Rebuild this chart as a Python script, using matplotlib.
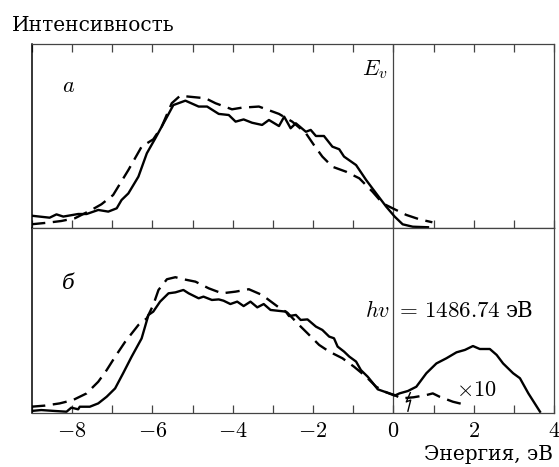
import numpy as np
import matplotlib
matplotlib.use("Agg")
import matplotlib.pyplot as plt

plt.rcParams['mathtext.fontset'] = 'cm'
plt.rcParams['font.family'] = ['DejaVu Serif']

# panel a: solid (measured) and dashed (calculated)
a_solid_x = [-9.02, -8.56, -8.39, -8.22, -7.85, -7.64, -7.35, -7.1, -6.89, -6.77,
             -6.6, -6.35, -6.14, -5.93, -5.68, -5.48, -5.18, -4.85, -4.64, -4.35,
             -4.1, -3.93, -3.73, -3.52, -3.27, -3.1, -2.85, -2.72, -2.56, -2.43,
             -2.18, -2.06, -1.93, -1.73, -1.52, -1.35, -1.23, -0.93, -0.68, -0.43,
             -0.18, 0.03, 0.23, 0.48, 0.86]
a_solid_y = [0.067, 0.056, 0.074, 0.062, 0.076, 0.076, 0.098, 0.089, 0.107, 0.152,
             0.188, 0.279, 0.406, 0.487, 0.587, 0.668, 0.692, 0.66, 0.66, 0.62,
             0.614, 0.578, 0.59, 0.572, 0.56, 0.587, 0.554, 0.605, 0.542, 0.569,
             0.523, 0.533, 0.5, 0.5, 0.442, 0.428, 0.388, 0.342, 0.261, 0.188,
             0.116, 0.062, 0.02, 0.007, 0.004]
a_dash_x = [-9.02, -8.6, -8.27, -7.93, -7.52, -7.27, -6.98, -6.6, -6.27, -5.98,
            -5.77, -5.52, -5.31, -5.1, -4.68, -4.43, -4.02, -3.77, -3.35, -2.85,
            -2.52, -2.18, -1.98, -1.77, -1.52, -1.18, -0.85, -0.52, -0.27, -0.02,
            0.32, 0.65, 0.97]
a_dash_y = [0.02, 0.029, 0.038, 0.053, 0.098, 0.129, 0.179, 0.315, 0.442, 0.482,
            0.551, 0.678, 0.719, 0.714, 0.705, 0.678, 0.645, 0.654, 0.66, 0.62,
            0.578, 0.515, 0.451, 0.388, 0.333, 0.306, 0.27, 0.197, 0.134, 0.107,
            0.071, 0.047, 0.031]

# panel b
b_solid_x = [-9.02, -8.77, -8.43, -8.14, -8.02, -7.85, -7.81, -7.56, -7.35, -7.14,
             -6.93, -6.73, -6.52, -6.27, -6.1, -5.98, -5.81, -5.6, -5.43, -5.23,
             -5.1, -4.85, -4.73, -4.52, -4.35, -4.23, -4.06, -3.89, -3.73, -3.56,
             -3.39, -3.23, -3.06, -2.85, -2.68, -2.6, -2.43, -2.31, -2.14, -1.93,
             -1.77, -1.6, -1.48, -1.39, -1.23, -1.1, -0.93, -0.81, -0.64, -0.52,
             -0.39, -0.18, 0.03, 0.15, 0.36, 0.57, 0.82, 1.07, 1.32, 1.57,
             1.78, 1.98, 2.15, 2.4, 2.57, 2.73, 2.98, 3.15, 3.36, 3.65]
b_solid_y = [0.011, 0.016, 0.011, 0.007, 0.029, 0.02, 0.034, 0.034, 0.052, 0.088,
             0.133, 0.215, 0.304, 0.403, 0.53, 0.548, 0.602, 0.647, 0.652, 0.665,
             0.647, 0.62, 0.629, 0.611, 0.614, 0.607, 0.589, 0.602, 0.578, 0.602,
             0.571, 0.589, 0.557, 0.552, 0.548, 0.524, 0.53, 0.503, 0.506, 0.467,
             0.449, 0.413, 0.404, 0.359, 0.332, 0.305, 0.278, 0.232, 0.196, 0.164,
             0.128, 0.112, 0.094, 0.106, 0.119, 0.142, 0.215, 0.268, 0.296, 0.328,
             0.341, 0.362, 0.346, 0.346, 0.314, 0.268, 0.215, 0.188, 0.106, 0.007]
b_dash_x = [-9.02, -8.68, -8.31, -7.98, -7.64, -7.35, -7.14, -6.93, -6.68, -6.35,
            -6.14, -5.98, -5.85, -5.64, -5.43, -5.23, -4.93, -4.6, -4.27, -3.93,
            -3.6, -3.27, -2.85, -2.64, -2.35, -2.14, -1.85, -1.6, -1.27, -0.98,
            -0.68, -0.43, -0.18, 0.03, 0.19, 0.5, 0.82, 0.98, 1.15, 1.48, 1.82]
b_dash_y = [0.034, 0.04, 0.052, 0.07, 0.106, 0.169, 0.232, 0.304, 0.385, 0.476,
            0.512, 0.584, 0.665, 0.723, 0.734, 0.723, 0.71, 0.674, 0.647, 0.656,
            0.669, 0.638, 0.57, 0.542, 0.476, 0.431, 0.368, 0.332, 0.296, 0.25,
            0.196, 0.142, 0.112, 0.097, 0.079, 0.085, 0.097, 0.106, 0.088, 0.061, 0.043]

# break mark near x = 0.35 in panel b
brk_x = [0.42, 0.32, 0.43, 0.36]
brk_y = [0.11, 0.06, 0.07, 0.01]

major_ticks = [-8, -6, -4, -2, 0, 2, 4]
minor_ticks = [-9, -7, -5, -3, -1, 1, 3]
tick_labels = ["$-8$", "$-6$", "$-4$", "$-2$", "$0$", "$2$", "$4$"]

fig = plt.figure(figsize=(5.59, 4.67), dpi=100)
ax1 = fig.add_axes([0.0572, 0.5118, 0.934, 0.394])
ax2 = fig.add_axes([0.0572, 0.1156, 0.934, 0.3962])

frame = "#444444"
dash = (0, (6, 3.2))

for ax in (ax1, ax2):
    ax.set_xlim(-9, 4)
    ax.set_ylim(0, 1)
    ax.set_yticks([])
    ax.set_xticks(major_ticks)
    ax.set_xticks(minor_ticks, minor=True)
    ax.axvline(0, color=frame, lw=0.9, zorder=1)
    for s in ax.spines.values():
        s.set_color(frame)
        s.set_linewidth(0.9)
    ax.spines['left'].set_color('black')
    ax.spines['left'].set_linewidth(1.1)
    ax.tick_params(which='both', direction='in', length=6, width=0.9, color=frame)

ax1.plot(a_solid_x, a_solid_y, color='black', lw=1.7)
ax1.plot(a_dash_x, a_dash_y, color='black', lw=1.7, linestyle=dash)
ax1.tick_params(which='both', top=True, bottom=True, labelbottom=False)

ax2.plot(b_solid_x, b_solid_y, color='black', lw=1.7)
ax2.plot(b_dash_x, b_dash_y, color='black', lw=1.7, linestyle=dash)
ax2.plot(brk_x, brk_y, color='black', lw=1.0)
ax2.set_xticklabels(tick_labels, fontsize=16)
ax2.tick_params(which='both', top=False, bottom=True, pad=5)

ax1.text(-8.1, 0.77, "$a$", fontsize=16, ha='center', va='center')
ax1.text(-0.15, 0.86, "$E_v$", fontsize=16, ha='right', va='center')
ax2.text(-8.1, 0.70, "б", fontsize=15, style='italic', ha='center', va='center')
ax2.text(-0.07, 0.55, "$hv$", fontsize=16, ha='right', va='center')
ax2.text(0.03, 0.55, "$=\\,1486.74$", fontsize=16.5, ha='left', va='center')
ax2.text(2.8, 0.55, "эВ", fontsize=15.5, ha='left', va='center')
ax2.text(1.55, 0.125, "$\\times 10$", fontsize=16, ha='left', va='center')

fig.text(0.021, 0.945, "Интенсивность", fontsize=14.5, ha='left', va='center')
fig.text(0.99, 0.026, "Энергия, эВ", fontsize=14.5, ha='right', va='center')

fig.savefig("out.png", dpi=100)
